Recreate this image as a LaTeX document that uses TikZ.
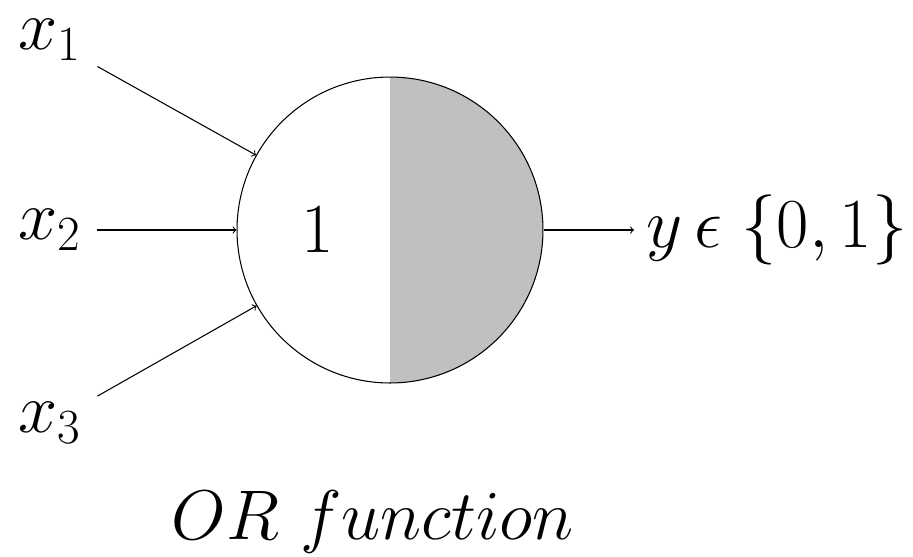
\RequirePackage{fix-cm}
\documentclass[tikz,border=0pt]{standalone}
\usepackage{tikz}
\usetikzlibrary{positioning}
\definecolor{orshade}{HTML}{C0C0C0}

\begin{document}
\begin{tikzpicture}[x=0.02cm, y=-0.02cm,
        lbl/.style={inner sep=9pt, font=\fontsize{40pt}{48pt}\selectfont},
        conn/.style={->, line width=0.6pt}]
        \useasboundingbox (0,0) rectangle (913,556);

        % Neuron, right half shaded
        \node[circle, draw, line width=0.6pt, inner sep=0pt, minimum size=6.12cm,
              path picture={\fill[orshade] (path picture bounding box.north)
                  rectangle (path picture bounding box.south east);}]
              (neuron) at (390,230) {};
        \node[lbl] (thresh) at (318,230) {$1$};

        % Inputs
        \node[lbl] (x1) at (50,40) {$x_1$};
        \node[lbl] (x2) at (50,230) {$x_2$};
        \node[lbl] (x3) at (50,423) {$x_3$};
        \draw[conn] (x1) -- (neuron);
        \draw[conn] (x2) -- (neuron);
        \draw[conn] (x3) -- (neuron);

        % Output
        \node[lbl, inner sep=7pt] (out) at (777,230) {$y\,\epsilon\;\{0, 1\}$};
        \draw[conn] (neuron) -- (out);

        % Caption
        \node[lbl] (caption) at (373,522) {$OR\ function$};
\end{tikzpicture}
\end{document}
